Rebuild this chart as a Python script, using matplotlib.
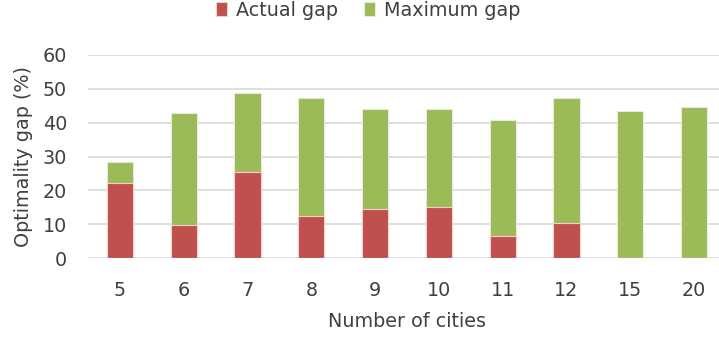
import matplotlib
matplotlib.use("Agg")
import matplotlib.pyplot as plt
import numpy as np

plt.rcParams['font.family'] = ['DejaVu Sans']

cities = ["5", "6", "7", "8", "9", "10", "11", "12", "15", "20"]
actual_gap = [22.1, 9.8, 25.3, 12.5, 14.4, 15.0, 6.7, 10.5, 0, 0]
maximum_gap = [28.5, 42.7, 48.6, 47.3, 44.0, 44.0, 40.8, 47.2, 43.4, 44.7]

red = "#C0504D"
green = "#9BBB59"
text_color = "#404040"
fs = 13.8

fig = plt.figure(figsize=(7.19, 3.41), dpi=100)
ax = fig.add_axes([0.1224, 0.2425, 0.8873, 0.597])

x = np.arange(len(cities))
w = 0.41
ax.bar(x, maximum_gap, width=w, color=green, edgecolor="#E6EED6", linewidth=0.8,
       label="Maximum gap", zorder=2)
ax.bar(x, actual_gap, width=w, color=red, edgecolor="#F0D0CF", linewidth=0.8,
       label="Actual gap", zorder=3)

ax.set_xlim(-0.5, len(cities) - 0.5)
ax.set_ylim(0, 60)
ax.set_yticks(range(0, 61, 10))
ax.set_xticks(x)
ax.set_xticklabels(cities)
ax.grid(axis="y", color="#D9D9D9", linewidth=1.2, zorder=0)
ax.set_axisbelow(True)
for s in ax.spines.values():
    s.set_visible(False)
ax.tick_params(axis="both", length=0, labelsize=fs, colors=text_color)
ax.tick_params(axis="x", pad=16)
ax.tick_params(axis="y", pad=15)

ax.set_xlabel("Number of cities", fontsize=fs, color=text_color, labelpad=9)
ax.set_ylabel("Optimality gap (%)", fontsize=fs, color=text_color)
ax.yaxis.set_label_coords(-0.087, 0.5)

handles, labels = ax.get_legend_handles_labels()
fig.legend(handles[::-1], labels[::-1], loc="center", bbox_to_anchor=(368.5 / 719, 1 - 10.5 / 341),
           ncol=2, frameon=False, fontsize=fs, labelcolor=text_color,
           handlelength=0.55, handleheight=0.75, handletextpad=0.5, columnspacing=1.35,
           borderpad=0)

fig.savefig("out.png", dpi=100)
